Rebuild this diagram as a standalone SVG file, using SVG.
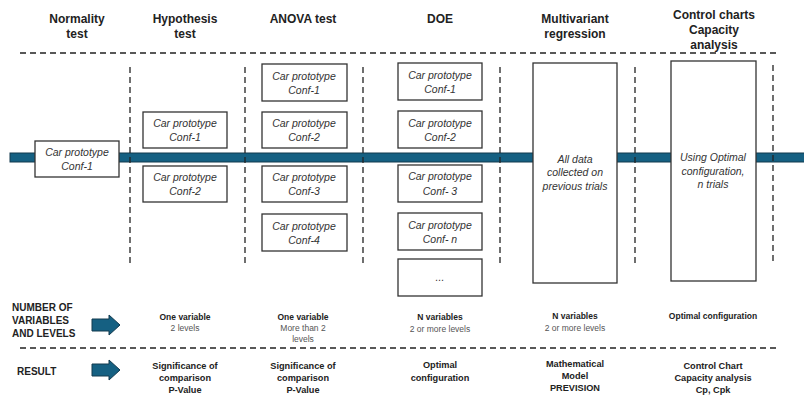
<svg xmlns="http://www.w3.org/2000/svg" width="804" height="398" viewBox="0 0 804 398">
<style>
.hd{font-family:"Liberation Sans",Arial,sans-serif;font-weight:bold;font-size:12px;fill:#222;text-anchor:middle}
.bx{fill:#fff;stroke:#333;stroke-width:1.3}
.bt{font-family:"Liberation Sans",Arial,sans-serif;font-style:italic;font-size:10.5px;fill:#333;text-anchor:middle}
.dash{stroke:#222;stroke-width:1.3;stroke-dasharray:6,4;fill:none}
.lbl{font-family:"Liberation Sans",Arial,sans-serif;font-weight:bold;font-size:10px;fill:#222}
.sb{font-family:"Liberation Sans",Arial,sans-serif;font-weight:bold;font-size:8.5px;fill:#222;text-anchor:middle}
.sr{font-family:"Liberation Sans",Arial,sans-serif;font-size:8.5px;fill:#555;text-anchor:middle}
.rb{font-family:"Liberation Sans",Arial,sans-serif;font-weight:bold;font-size:9.2px;fill:#222;text-anchor:middle}
.arr{fill:#156082;stroke:#123a4f;stroke-width:1}
</style>
<rect width="804" height="398" fill="#fff"/>
<g id="headers">
<text class="hd" x="77" y="23">Normality</text><text class="hd" x="77" y="38">test</text>
<text class="hd" x="185" y="23">Hypothesis</text><text class="hd" x="185" y="38">test</text>
<text class="hd" x="303" y="23">ANOVA test</text>
<text class="hd" x="440" y="23">DOE</text>
<text class="hd" x="575" y="23">Multivariant</text><text class="hd" x="575" y="38">regression</text>
<text class="hd" x="714" y="19">Control charts</text><text class="hd" x="714" y="34">Capacity</text><text class="hd" x="714" y="49">analysis</text>
</g>
<rect id="bar" x="10" y="153" width="800" height="9" fill="#156082" stroke="#123a4f" stroke-width="1"/>
<g id="grid">
<line class="dash" x1="20" y1="53" x2="776" y2="53"/>
<line class="dash" x1="20" y1="348" x2="776" y2="348"/>
<line class="dash" x1="130" y1="67" x2="130" y2="266"/>
<line class="dash" x1="245" y1="67" x2="245" y2="266"/>
<line class="dash" x1="363" y1="67" x2="363" y2="266"/>
<line class="dash" x1="500" y1="67" x2="500" y2="266"/>
<line class="dash" x1="635" y1="67" x2="635" y2="264"/>
<line class="dash" x1="773" y1="65" x2="773" y2="263"/>
</g>
<g id="normality-conf1"><rect class="bx" x="35" y="141" width="84" height="36"/><text class="bt" x="77" y="156">Car prototype</text><text class="bt" x="77" y="170">Conf-1</text></g>
<g id="hyp-conf1"><rect class="bx" x="143" y="112" width="84" height="36"/><text class="bt" x="185" y="127">Car prototype</text><text class="bt" x="185" y="141">Conf-1</text></g>
<g id="hyp-conf2"><rect class="bx" x="143" y="166" width="84" height="36"/><text class="bt" x="185" y="181">Car prototype</text><text class="bt" x="185" y="195">Conf-2</text></g>
<g id="anova-conf1"><rect class="bx" x="262" y="64" width="85" height="37"/><text class="bt" x="304" y="80">Car prototype</text><text class="bt" x="304" y="94">Conf-1</text></g>
<g id="anova-conf2"><rect class="bx" x="262" y="112" width="85" height="36"/><text class="bt" x="304" y="127">Car prototype</text><text class="bt" x="304" y="141">Conf-2</text></g>
<g id="anova-conf3"><rect class="bx" x="262" y="166" width="85" height="36"/><text class="bt" x="304" y="181">Car prototype</text><text class="bt" x="304" y="195">Conf-3</text></g>
<g id="anova-conf4"><rect class="bx" x="262" y="214" width="85" height="37"/><text class="bt" x="304" y="230">Car prototype</text><text class="bt" x="304" y="244">Conf-4</text></g>
<g id="doe-conf1"><rect class="bx" x="398" y="63" width="84" height="37"/><text class="bt" x="440" y="79">Car prototype</text><text class="bt" x="440" y="93">Conf-1</text></g>
<g id="doe-conf2"><rect class="bx" x="398" y="111" width="84" height="37"/><text class="bt" x="440" y="127">Car prototype</text><text class="bt" x="440" y="141">Conf-2</text></g>
<g id="doe-conf3"><rect class="bx" x="398" y="165" width="84" height="37"/><text class="bt" x="440" y="180">Car prototype</text><text class="bt" x="440" y="195">Conf- 3</text></g>
<g id="doe-confn"><rect class="bx" x="398" y="213" width="84" height="37"/><text class="bt" x="440" y="229">Car prototype</text><text class="bt" x="440" y="243">Conf- n</text></g>
<g id="doe-more"><rect class="bx" x="398" y="259" width="84" height="37"/><text class="bt" x="440" y="281">...</text></g>
<g id="multivariant"><rect class="bx" x="533" y="63" width="84" height="220"/><text class="bt" x="575" y="163">All data</text><text class="bt" x="575" y="176">collected on</text><text class="bt" x="575" y="190">previous trials</text></g>
<g id="control"><rect class="bx" x="671" y="61" width="85" height="220"/><text class="bt" x="713" y="161">Using Optimal</text><text class="bt" x="713" y="175">configuration,</text><text class="bt" x="713" y="188">n trials</text></g>
<g id="row-labels">
<text class="lbl" x="12" y="311">NUMBER OF</text><text class="lbl" x="12" y="324">VARIABLES</text><text class="lbl" x="12" y="337">AND LEVELS</text>
<text class="lbl" x="17" y="375">RESULT</text>
</g>
<g id="connectors">
<path class="arr" d="M92,319 H109 V315 L120,325 L109,335 V331 H92 Z"/>
<path class="arr" d="M92,364 H109 V360 L120,370 L109,380 V376 H92 Z"/>
</g>
<g id="levels">
<text class="sb" x="185" y="320">One variable</text><text class="sr" x="185" y="331">2 levels</text>
<text class="sb" x="303" y="320">One variable</text><text class="sr" x="303" y="331">More than 2</text><text class="sr" x="303" y="342">levels</text>
<text class="sb" x="440" y="320">N variables</text><text class="sr" x="440" y="332">2 or more levels</text>
<text class="sb" x="575" y="319">N variables</text><text class="sr" x="575" y="331">2 or more levels</text>
<text class="sb" x="713" y="319">Optimal configuration</text>
</g>
<g id="results">
<text class="rb" x="185" y="369">Significance of</text><text class="rb" x="185" y="381">comparison</text><text class="rb" x="185" y="393">P-Value</text>
<text class="rb" x="303" y="369">Significance of</text><text class="rb" x="303" y="381">comparison</text><text class="rb" x="303" y="393">P-Value</text>
<text class="rb" x="440" y="368">Optimal</text><text class="rb" x="440" y="381">configuration</text>
<text class="rb" x="575" y="367">Mathematical</text><text class="rb" x="575" y="379">Model</text><text class="rb" x="575" y="391">PREVISION</text>
<text class="rb" x="713" y="369">Control Chart</text><text class="rb" x="713" y="381">Capacity analysis</text><text class="rb" x="713" y="393">Cp, Cpk</text>
</g>
</svg>
